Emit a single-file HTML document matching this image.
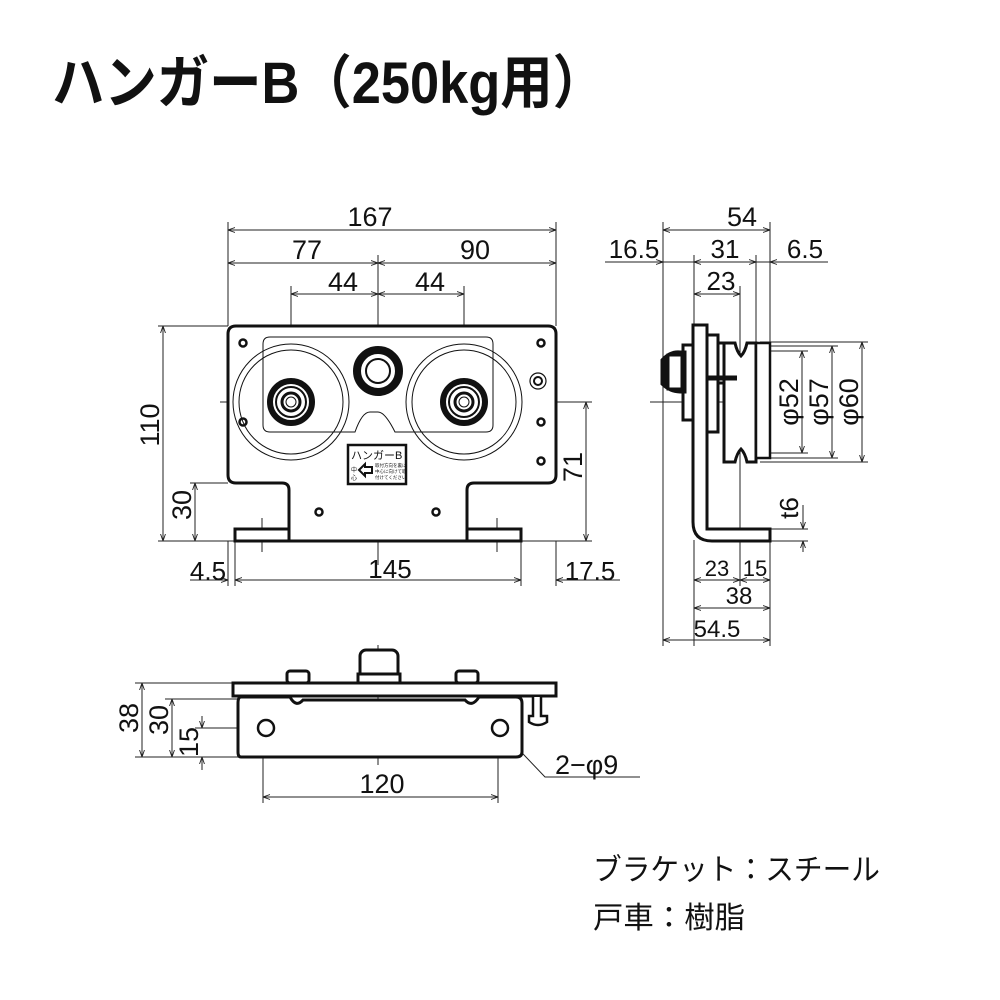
<!DOCTYPE html>
<html><head><meta charset="utf-8"><style>
html,body{margin:0;padding:0;background:#fff;width:1000px;height:1000px;overflow:hidden}
svg{display:block}
text{font-family:"Liberation Sans","Noto Sans CJK JP",sans-serif;fill:#111}
</style></head><body>
<svg width="1000" height="1000" viewBox="0 0 1000 1000" xmlns="http://www.w3.org/2000/svg">
<defs>
<marker id="a" viewBox="0 0 10 10" refX="10" refY="5" markerWidth="7" markerHeight="7" orient="auto-start-reverse"><path d="M0,1.5 L10,5 L0,8.5" fill="none" stroke="#222" stroke-width="1.3"/></marker>
</defs>
<text x="52" y="103" font-size="58" font-weight="bold" textLength="553" lengthAdjust="spacingAndGlyphs">ハンガーB（250kg用）</text>

<g stroke="#222" stroke-width="1" fill="none">
<line x1="228" y1="222" x2="228" y2="326"/><line x1="556" y1="222" x2="556" y2="326"/>
<line x1="228" y1="230" x2="556" y2="230" marker-start="url(#a)" marker-end="url(#a)"/>
<line x1="228" y1="263" x2="378" y2="263" marker-start="url(#a)" marker-end="url(#a)"/>
<line x1="378" y1="263" x2="556" y2="263" marker-start="url(#a)" marker-end="url(#a)"/>
<line x1="291" y1="294" x2="378" y2="294" marker-start="url(#a)" marker-end="url(#a)"/>
<line x1="378" y1="294" x2="464" y2="294" marker-start="url(#a)" marker-end="url(#a)"/>
<line x1="291" y1="286" x2="291" y2="475"/><line x1="464" y1="286" x2="464" y2="475"/>
<line x1="378" y1="255" x2="378" y2="565"/>
<line x1="220" y1="402" x2="592" y2="402"/>
<line x1="158" y1="326" x2="228" y2="326"/><line x1="158" y1="541" x2="234" y2="541"/>
<line x1="163" y1="326" x2="163" y2="541" marker-start="url(#a)" marker-end="url(#a)"/>
<line x1="190" y1="483" x2="228" y2="483"/>
<line x1="195" y1="483" x2="195" y2="541" marker-start="url(#a)" marker-end="url(#a)"/>
<line x1="586" y1="402" x2="586" y2="541" marker-start="url(#a)" marker-end="url(#a)"/>
<line x1="522" y1="541" x2="592" y2="541"/>
<line x1="228" y1="541" x2="228" y2="586"/><line x1="235" y1="541" x2="235" y2="586"/>
<line x1="521" y1="541" x2="521" y2="586"/><line x1="556" y1="541" x2="556" y2="586"/>
<line x1="190" y1="580" x2="228" y2="580" marker-end="url(#a)"/>
<line x1="235" y1="580" x2="521" y2="580" marker-start="url(#a)" marker-end="url(#a)"/>
<line x1="556" y1="580" x2="620" y2="580" marker-start="url(#a)"/>
<line x1="262" y1="518" x2="262" y2="552"/><line x1="497" y1="518" x2="497" y2="552"/>
</g>
<g font-size="26">
<text x="370" y="226" text-anchor="middle" font-size="27">167</text>
<text x="307" y="259" text-anchor="middle" font-size="27">77</text>
<text x="475" y="259" text-anchor="middle" font-size="27">90</text>
<text x="343" y="291" text-anchor="middle" font-size="27">44</text>
<text x="430" y="291" text-anchor="middle" font-size="27">44</text>
<text transform="translate(159,425) rotate(-90)" text-anchor="middle" font-size="27">110</text>
<text transform="translate(191,505) rotate(-90)" text-anchor="middle" font-size="27">30</text>
<text transform="translate(582,467) rotate(-90)" text-anchor="middle" font-size="27">71</text>
<text x="208" y="580" text-anchor="middle">4.5</text>
<text x="390" y="578" text-anchor="middle">145</text>
<text x="590" y="580" text-anchor="middle">17.5</text>
</g>

<g stroke="#111" fill="none">
<path d="M236,326 H548 Q556,326 556,334 V475 Q556,483 548,483 H474 Q467,483 467,490 V541 H289 V490 Q289,483 282,483 H236 Q228,483 228,475 V334 Q228,326 236,326 Z" stroke-width="3" fill="#fff"/>
<rect x="235" y="529" width="54" height="12" stroke-width="3" fill="#fff"/>
<rect x="467" y="529" width="54" height="12" stroke-width="3" fill="#fff"/>
<path d="M270,337 H486 Q493,337 493,344 V425 Q493,432 486,432 H395 Q385,412 378,412 H370 Q362,412 355,432 H270 Q263,432 263,425 V344 Q263,337 270,337 Z" stroke-width="1"/>
<circle cx="291" cy="402" r="58" stroke-width="1"/><circle cx="291" cy="402" r="52" stroke-width="1"/>
<circle cx="464" cy="402" r="58" stroke-width="1"/><circle cx="464" cy="402" r="52" stroke-width="1"/>
<circle cx="291" cy="402" r="21" stroke-width="6"/><circle cx="291" cy="402" r="15" stroke-width="2"/><circle cx="291" cy="402" r="9" stroke-width="3"/><circle cx="291" cy="402" r="5" stroke-width="1"/>
<circle cx="464" cy="402" r="21" stroke-width="6"/><circle cx="464" cy="402" r="15" stroke-width="2"/><circle cx="464" cy="402" r="9" stroke-width="3"/><circle cx="464" cy="402" r="5" stroke-width="1"/>
<circle cx="378" cy="371" r="21" stroke-width="8"/><circle cx="378" cy="371" r="12" stroke-width="2"/>
<g stroke-width="2.5">
<circle cx="243" cy="343" r="3.5"/><circle cx="243" cy="422" r="3.5"/>
<circle cx="541" cy="343" r="3.5"/><circle cx="541" cy="422" r="3.5"/><circle cx="541" cy="461" r="3.5"/>
<circle cx="319" cy="512" r="3.5"/><circle cx="436" cy="512" r="3.5"/>
</g>
<circle cx="538" cy="381" r="8" stroke-width="1.2"/><circle cx="538" cy="381" r="4" stroke-width="2"/>
<rect x="348" y="445" width="58" height="39" stroke-width="2.5" fill="#fff"/>
</g>
<text x="351" y="459" font-size="11">ハンガーB</text>
<text x="351" y="472" font-size="6">中</text><text x="351" y="480" font-size="6">心</text>
<path d="M359,470 L365,464 V467 H372 V473 H365 V476 Z" fill="#fff" stroke="#111" stroke-width="2"/>
<g font-size="4.5"><text x="375" y="467">取付方向を裏に</text><text x="375" y="473">中心に向けて取</text><text x="375" y="479">付けてください</text></g>

<g stroke="#222" stroke-width="1" fill="none">
<line x1="663" y1="222" x2="663" y2="646"/>
<line x1="770" y1="222" x2="770" y2="342"/>
<line x1="663" y1="230" x2="770" y2="230" marker-start="url(#a)" marker-end="url(#a)"/>
<line x1="605" y1="262" x2="663" y2="262" marker-end="url(#a)"/>
<line x1="694" y1="262" x2="756" y2="262" marker-start="url(#a)" marker-end="url(#a)"/>
<line x1="770" y1="262" x2="828" y2="262" marker-start="url(#a)"/>
<line x1="663" y1="262" x2="694" y2="262"/><line x1="756" y1="262" x2="770" y2="262"/>
<line x1="694" y1="255" x2="694" y2="325"/><line x1="756" y1="255" x2="756" y2="342"/>
<line x1="740" y1="286" x2="740" y2="342"/>
<line x1="694" y1="294" x2="740" y2="294" marker-start="url(#a)" marker-end="url(#a)"/>
<line x1="740" y1="300" x2="740" y2="586"/>
<line x1="694" y1="540" x2="694" y2="646"/>
<line x1="770" y1="540" x2="770" y2="646"/>
<line x1="650" y1="402" x2="770" y2="402"/>
<line x1="760" y1="342" x2="868" y2="342"/><line x1="760" y1="462" x2="868" y2="462"/>
<line x1="760" y1="351" x2="808" y2="351"/><line x1="760" y1="453" x2="808" y2="453"/>
<line x1="760" y1="346" x2="838" y2="346"/><line x1="760" y1="458" x2="838" y2="458"/>
<line x1="802" y1="351" x2="802" y2="453" marker-start="url(#a)" marker-end="url(#a)"/>
<line x1="832" y1="346" x2="832" y2="458" marker-start="url(#a)" marker-end="url(#a)"/>
<line x1="862" y1="342" x2="862" y2="462" marker-start="url(#a)" marker-end="url(#a)"/>
<line x1="770" y1="529" x2="808" y2="529"/><line x1="770" y1="541" x2="808" y2="541"/>
<line x1="803" y1="505" x2="803" y2="529" marker-end="url(#a)"/>
<line x1="803" y1="552" x2="803" y2="541" marker-end="url(#a)"/>
<line x1="694" y1="580" x2="740" y2="580" marker-start="url(#a)" marker-end="url(#a)"/>
<line x1="740" y1="580" x2="770" y2="580" marker-start="url(#a)" marker-end="url(#a)"/>
<line x1="694" y1="608" x2="770" y2="608" marker-start="url(#a)" marker-end="url(#a)"/>
<line x1="663" y1="640" x2="770" y2="640" marker-start="url(#a)" marker-end="url(#a)"/>
</g>
<g fill="#fff" stroke="#111" stroke-width="3">
<path d="M693,325 H707 V529 H770 V541 H712 Q693,541 693,522 Z"/>
<rect x="707" y="335" width="11" height="97"/>
<rect x="718" y="343" width="6" height="40"/>
<path d="M724,343 H735 Q737,352 741,356 Q745,352 747,343 H756 V462 H747 Q745,453 741,449 Q737,453 735,462 H724 Z"/>
<rect x="756" y="343" width="14" height="115" stroke-width="2.5"/>
<rect x="683" y="345" width="10" height="75"/>
<path d="M662,360 Q670,351 680,352 H685 V392 H680 Q670,392 662,384 Z" fill="#111"/>
<rect x="668" y="355" width="14" height="34"/>
</g>
<line x1="707" y1="378" x2="737" y2="378" stroke="#111" stroke-width="5"/>
<g font-size="26">
<text x="742" y="226" text-anchor="middle" font-size="27">54</text>
<text x="634" y="258" text-anchor="middle">16.5</text>
<text x="725" y="258" text-anchor="middle">31</text>
<text x="805" y="258" text-anchor="middle">6.5</text>
<text x="721" y="290" text-anchor="middle">23</text>
<text transform="translate(798,402) rotate(-90)" text-anchor="middle" font-size="27">φ52</text>
<text transform="translate(828,402) rotate(-90)" text-anchor="middle" font-size="27">φ57</text>
<text transform="translate(858,402) rotate(-90)" text-anchor="middle" font-size="27">φ60</text>
<text transform="translate(798,508) rotate(-90)" text-anchor="middle">t6</text>
<text x="717" y="576" text-anchor="middle" font-size="22">23</text>
<text x="755" y="576" text-anchor="middle" font-size="22">15</text>
<text x="739" y="604" text-anchor="middle" font-size="24">38</text>
<text x="717" y="637" text-anchor="middle" font-size="24">54.5</text>
</g>

<g stroke="#222" stroke-width="1" fill="none">
<line x1="135" y1="683" x2="232" y2="683"/><line x1="135" y1="757" x2="240" y2="757"/>
<line x1="165" y1="699" x2="240" y2="699"/>
<line x1="142" y1="683" x2="142" y2="757" marker-start="url(#a)" marker-end="url(#a)"/>
<line x1="172" y1="699" x2="172" y2="757" marker-start="url(#a)" marker-end="url(#a)"/>
<line x1="202" y1="716" x2="202" y2="728" marker-end="url(#a)"/>
<line x1="202" y1="770" x2="202" y2="757" marker-end="url(#a)"/>
<line x1="195" y1="728" x2="510" y2="728"/>
<line x1="378" y1="645" x2="378" y2="765"/>
<line x1="263" y1="712" x2="263" y2="803"/><line x1="498" y1="712" x2="498" y2="803"/>
<line x1="263" y1="797" x2="498" y2="797" marker-start="url(#a)" marker-end="url(#a)"/>
<polyline points="505,735 545,777 640,777"/>
</g>
<g fill="#fff" stroke="#111" stroke-width="3">
<rect x="287" y="671" width="22" height="12" rx="3"/>
<rect x="456" y="671" width="22" height="12" rx="3"/>
<rect x="360" y="650" width="38" height="33" rx="6"/>
<rect x="358" y="674" width="42" height="9"/>
<rect x="233" y="683" width="323" height="13"/>
<path d="M241,697 H290 Q296,708 303,700 H465 Q472,708 479,697 H516 Q522,697 522,703 V752 Q522,757 516,757 H241 Q238,757 238,752 V703 Q238,697 241,697 Z"/>
<path d="M533,697 V716 H529 V722 Q538,728 547,722 V716 H541 V697" stroke-width="2.5"/>
</g>
<circle cx="266" cy="728" r="8" fill="none" stroke="#111" stroke-width="2.5"/>
<circle cx="500" cy="728" r="8" fill="none" stroke="#111" stroke-width="2.5"/>
<g font-size="26">
<text transform="translate(138,718) rotate(-90)" text-anchor="middle" font-size="27">38</text>
<text transform="translate(168,720) rotate(-90)" text-anchor="middle" font-size="27">30</text>
<text transform="translate(198,742) rotate(-90)" text-anchor="middle" font-size="27">15</text>
<text x="382" y="793" text-anchor="middle" font-size="27">120</text>
<text x="555" y="774" font-size="27">2−φ9</text>
</g>

<text x="593" y="880" font-size="30" textLength="287" lengthAdjust="spacingAndGlyphs">ブラケット：スチール</text>
<text x="593" y="928" font-size="30" textLength="152" lengthAdjust="spacingAndGlyphs">戸車：樹脂</text>
</svg>
</body></html>
